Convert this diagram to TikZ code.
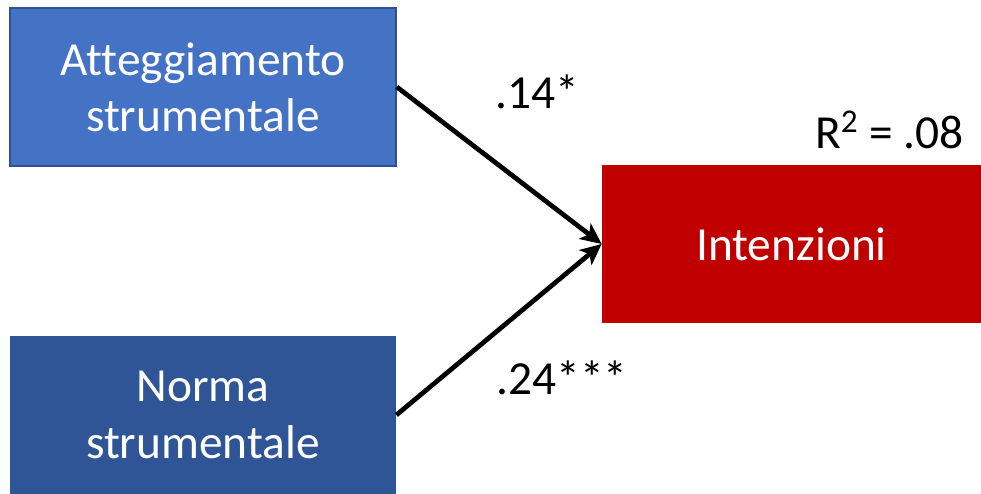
\documentclass[tikz,border=0pt]{standalone}
\usepackage{fontspec}
\setmainfont{Carlito}[Ligatures=NoCommon]
\usepackage{tikz}
\usetikzlibrary{positioning}
\usetikzlibrary{arrows.meta}
\definecolor{attblue}{HTML}{4472C4}
\definecolor{attedge}{HTML}{2F528F}
\definecolor{normblue}{HTML}{2F5597}
\definecolor{intred}{HTML}{C00000}
\tikzset{%
    varbox/.style={minimum width=7.72cm, minimum height=3.16cm, inner sep=0pt,
      text=white, align=center, font=\fontsize{27}{32}\selectfont},
    coef/.style={font=\fontsize{27}{32}\selectfont},
    path/.style={line width=2.7pt, -{Stealth[length=12pt,width=11pt,inset=3pt]}},
}

\begin{document}
\begin{tikzpicture}

  \useasboundingbox (0,0) rectangle (19.62,9.86);

  \node[varbox, fill=attblue, draw=attedge, line width=1pt] (att) at (4.06,8.12) {Atteggiamento\\strumentale};
  \node[varbox, fill=normblue] (norma) at (4.06,1.56) {Norma\\strumentale};
  \node[varbox, fill=intred, minimum width=7.58cm] (int) at (15.83,4.98) {Intenzioni};

  \draw[path] (att.east) -- (int.west);
  \draw[path] (norma.east) -- (int.west);

  \node[coef] (b1) at (10.74,8.02) {.14*};
  \node[coef] (b2) at (11.24,2.30) {.24***};
  \node[coef] (r2) at (17.79,7.26) {R\textsuperscript{2} = .08};

\end{tikzpicture}
\end{document}
